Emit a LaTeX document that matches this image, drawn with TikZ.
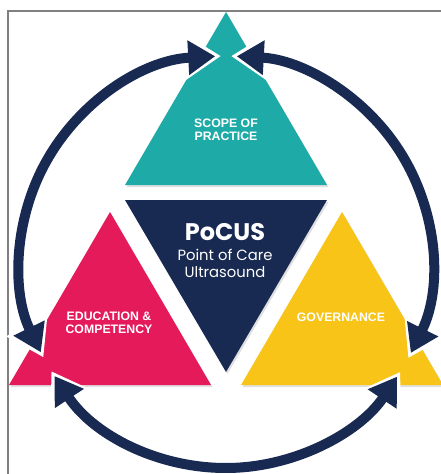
\documentclass[tikz,border=0pt]{standalone}
\usepackage{fontspec}
\setmainfont{Poppins}
\newfontfamily\lblfont{Liberation Sans}
\usetikzlibrary{arrows.meta}
\definecolor{pteal}{RGB}{30,170,166}
\definecolor{pnavy}{RGB}{24,42,82}
\definecolor{ppink}{RGB}{228,26,90}
\definecolor{pyellow}{RGB}{248,196,24}
\tikzset{
  ring/.style={draw=pnavy, line width=10pt,
    {Triangle[length=27pt,width=33pt]}-{Triangle[length=27pt,width=33pt]}},
  halo/.style={draw=white, line width=16pt,
    {Triangle[length=36pt,width=44pt]}-{Triangle[length=36pt,width=44pt]}},
  lbl/.style={text=white, font=\lblfont\bfseries\fontsize{12.3}{13.3}\selectfont, align=center},
  shade/.style={fill=black, opacity=0.12},
}
\begin{document}
\begin{tikzpicture}[x=1pt,y=1pt]
\useasboundingbox (0,0) rectangle (441,-474);
\clip (0,0) rectangle (441,-474);
\fill[white] (0,0) rectangle (441,-474);
\draw[gray, line width=1.3pt] (8,-480) -- (8,-11) -- (450,-11);
% shadows
\begin{scope}[shift={(1.5,-2)}]
\fill[shade] (226,-12) -- (327,-185) -- (125,-185) -- cycle;
\fill[shade] (125,-200) -- (327,-200) -- (226,-372) -- cycle;
\fill[shade] (110,-212) -- (211,-385) -- (9,-385) -- cycle;
\fill[shade] (342,-212) -- (443,-385) -- (241,-385) -- cycle;
\end{scope}
% triangles
\fill[pteal] (226,-12) -- (327,-185) -- (125,-185) -- cycle;
\fill[pnavy] (125,-200) -- (327,-200) -- (226,-372) -- cycle;
\fill[ppink] (110,-212) -- (211,-385) -- (9,-385) -- cycle;
\fill[pyellow] (342,-212) -- (443,-385) -- (241,-385) -- cycle;
% ring arrows
\coordinate (c) at (226,-262);
\draw[halo] ([shift={(91.4:206)}]c) arc[start angle=91.4, end angle=207.6, radius=206];
\draw[halo] ([shift={(212.0:206)}]c) arc[start angle=212.0, end angle=327.8, radius=206];
\draw[halo] ([shift={(332.2:206)}]c) arc[start angle=332.2, end angle=448.6, radius=206];
\draw[ring] ([shift={(93.0:206)}]c) arc[start angle=93.0, end angle=206.0, radius=206];
\draw[ring] ([shift={(213.6:206)}]c) arc[start angle=213.6, end angle=326.2, radius=206];
\draw[ring] ([shift={(333.8:206)}]c) arc[start angle=333.8, end angle=447.0, radius=206];
% labels
\node[lbl] (scope) at (226,-130) {SCOPE OF\\PRACTICE};
\node[lbl] (edu) at (109,-323) {EDUCATION \&\\COMPETENCY};
\node[lbl] (gov) at (341,-317) {GOVERNANCE};
\node[text=white, font=\bfseries\fontsize{24}{26}\selectfont] (pocus) at (225,-232) {PoCUS};
\node[text=white, font=\fontsize{14.8}{17}\selectfont, align=center] (poc) at (225,-263) {Point of Care\\Ultrasound};
\end{tikzpicture}
\end{document}
